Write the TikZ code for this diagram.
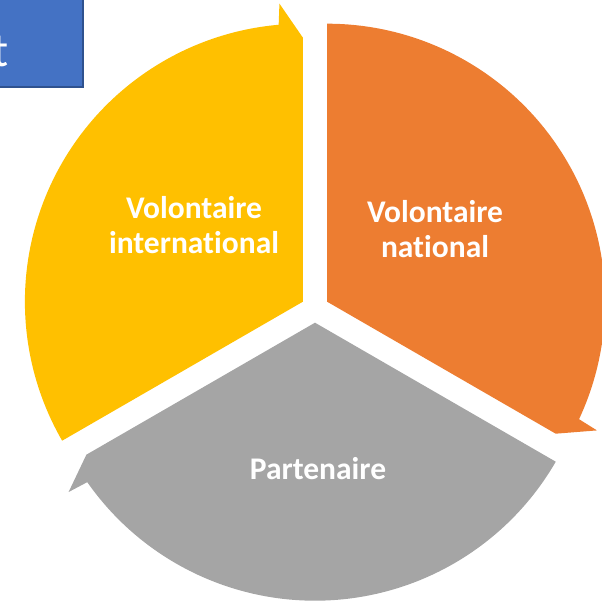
\documentclass[tikz,border=0pt]{standalone}
\usepackage{fontspec}
\setsansfont{Carlito}[Ligatures=NoCommon]
\usetikzlibrary{positioning}

\begin{document}
\begin{tikzpicture}[x=1pt,y=1pt]
  \useasboundingbox (0,0) rectangle (602,603);
  \clip (0,0) rectangle (602,603);
  \definecolor{vint}{RGB}{255,192,0}
  \definecolor{vnat}{RGB}{237,125,49}
  \definecolor{part}{RGB}{165,165,165}
  \definecolor{titre}{RGB}{68,114,196}
  \definecolor{titrebord}{RGB}{47,82,143}
  \tikzset{lbl/.style={text=white,align=center,
      font=\sffamily\bfseries\fontsize{31.5}{34.4}\selectfont}}
  % one segment: corner (x,y), head angle, colour
  \def\seg(#1,#2)#3#4{
    \fill[#4,shift={(#1,#2)}] (0,0) -- (#3:264) -- (#3+4.5:299) -- (#3+5:278)
      arc[start angle=#3+5,end angle=#3+120,radius=278] -- cycle;
  }
  \seg(302.9,301.3){90}{vint}
  \seg(327.1,301.3){-30}{vnat}
  \seg(315,280.3){210}{part}

  \node[lbl] (inter) at (194,378) {Volontaire\\international};
  \node[lbl] (natio) at (435,374) {Volontaire\\national};
  \node[lbl] (parten) at (318,134) {Partenaire};

  % title box, cut by the edge
  \filldraw[draw=titrebord,fill=titre,line width=1.5] (-4,516) rectangle (83,610);
  \node[text=white,font=\sffamily\fontsize{48}{56}\selectfont,anchor=base east,
    inner sep=0pt] (titre) at (8.5,536.5) {t};
\end{tikzpicture}
\end{document}
